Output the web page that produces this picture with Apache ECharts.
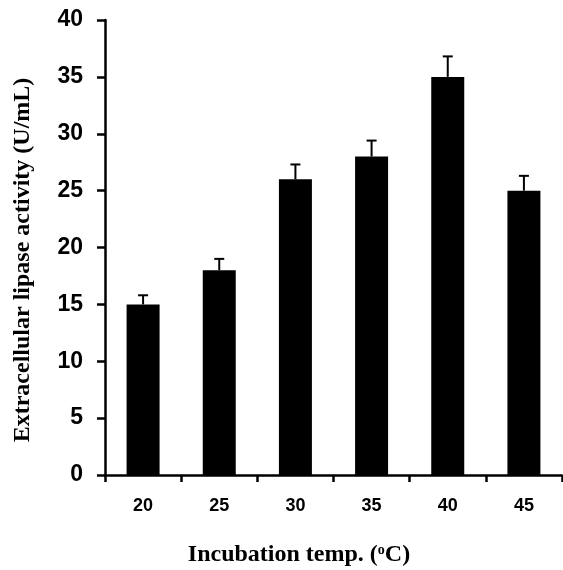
<!DOCTYPE html>
<html>
<head>
<meta charset="utf-8">
<script src="https://cdn.jsdelivr.net/npm/echarts@6/dist/echarts.min.js"></script>
<style>
  html, body { margin: 0; padding: 0; background: #fff; }
  #chart { width: 563px; height: 570px; }
</style>
</head>
<body>
<div id="chart"></div>
<script>
// incubation temperatures (°C)
const temps = ['20', '25', '30', '35', '40', '45']
// extracellular lipase activity (U/mL)
const activity = [15, 18, 26, 28, 35, 25]
// upper error (top of whisker)
const errTop = [15.8, 19.0, 27.3, 29.4, 36.8, 26.3]
const yTicks = [0, 5, 10, 15, 20, 25, 30, 35, 40]

const chart = echarts.init(document.getElementById('chart'))

const errData = temps.map((t, i) => [i, activity[i], errTop[i]])

chart.setOption({
  animation: false,
  grid: { left: 105, right: 1, top: 20, bottom: 95 },
  xAxis: {
    type: 'category',
    data: temps,
    axisLine: { lineStyle: { color: '#000', width: 2.5 } },
    axisTick: { show: true, length: 7, lineStyle: { color: '#000', width: 2.5 } },
    axisLabel: {
      margin: 22,
      color: '#000',
      fontFamily: 'Liberation Sans, Arial',
      fontWeight: 'bold',
      fontSize: 18
    }
  },
  yAxis: {
    type: 'value',
    min: yTicks[0],
    max: yTicks[yTicks.length - 1],
    interval: 5,
    splitLine: { show: false },
    axisLine: { show: true, lineStyle: { color: '#000', width: 2.5 } },
    axisTick: { show: true, length: 8, lineStyle: { color: '#000', width: 2.5 } },
    axisLabel: {
      margin: 22,
      color: '#000',
      fontFamily: 'Liberation Sans, Arial',
      fontWeight: 'bold',
      fontSize: 23
    }
  },
  series: [
    {
      type: 'bar',
      data: activity,
      barWidth: 33,
      itemStyle: { color: '#000' }
    },
    {
      type: 'custom',
      data: errData,
      z: 3,
      renderItem(params, api) {
        const x = api.value(0)
        const base = api.coord([x, api.value(1)])
        const top = api.coord([x, api.value(2)])
        const half = 5
        const st = { stroke: '#000', lineWidth: 2 }
        return {
          type: 'group',
          children: [
            { type: 'line', shape: { x1: base[0], y1: base[1], x2: top[0], y2: top[1] }, style: st },
            { type: 'line', shape: { x1: top[0] - half, y1: top[1], x2: top[0] + half, y2: top[1] }, style: st }
          ]
        }
      }
    }
  ],
  graphic: [
    {
      type: 'text',
      x: 299,
      y: 555,
      style: {
        text: '{t|Incubation temp. (}{s|o}{t|C)}',
        align: 'center',
        verticalAlign: 'middle',
        rich: {
          t: { fontFamily: 'Liberation Serif, Times New Roman', fontWeight: 'bold', fontSize: 24, fill: '#000' },
          s: { fontFamily: 'Liberation Serif, Times New Roman', fontWeight: 'bold', fontSize: 14, fill: '#000', verticalAlign: 'top', padding: [0, 0, 10, 0] }
        }
      }
    },
    {
      type: 'text',
      x: 23,
      y: 260,
      rotation: Math.PI / 2,
      style: {
        text: 'Extracellular lipase activity (U/mL)',
        align: 'center',
        verticalAlign: 'middle',
        fontFamily: 'Liberation Serif, Times New Roman',
        fontWeight: 'bold',
        fontSize: 24,
        fill: '#000'
      }
    }
  ]
})
</script>
</body>
</html>
